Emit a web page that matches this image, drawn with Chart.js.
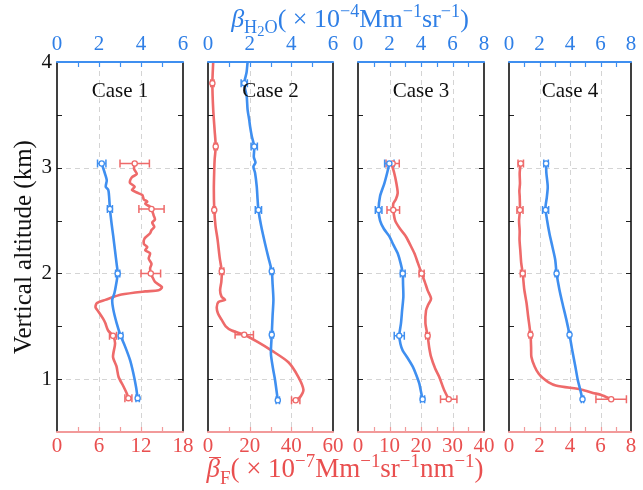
<!DOCTYPE html>
<html><head><meta charset="utf-8">
<script src="https://cdn.jsdelivr.net/npm/chart.js@4"></script>
<style>
html,body{margin:0;padding:0;background:#fff;width:643px;height:490px;overflow:hidden;position:relative;font-family:"Liberation Serif",serif}
.cv{position:absolute;top:0;height:490px}
.ttl{position:absolute;left:0;width:690px;text-align:center;white-space:nowrap;font-family:"Liberation Serif",serif;font-size:27px;line-height:1}
.it{font-style:italic}
.sub{font-size:0.7em;vertical-align:-0.35em;line-height:0}
.sub2{font-size:0.8em;vertical-align:-0.2em;line-height:0}
.sup{font-size:0.7em;vertical-align:0.55em;line-height:0}
.ov{position:relative;display:inline-block;line-height:1}
.ovbar{position:absolute;left:3px;right:-1px;top:2px;height:0;border-top:1.5px solid currentColor}
</style></head><body>
<div class="cv" style="left:0;width:195px"><canvas id="c1" width="195" height="490"></canvas></div>
<div class="cv" style="left:196px;width:149px"><canvas id="c2" width="149" height="490"></canvas></div>
<div class="cv" style="left:346px;width:150px"><canvas id="c3" width="150" height="490"></canvas></div>
<div class="cv" style="left:497px;width:146px"><canvas id="c4" width="146" height="490"></canvas></div>
<div class="ttl" id="topTitle" style="top:6px;left:5px;font-size:26px;color:#2f7fe6"><span class="it">β</span><span class="sub">H<span class="sub2">2</span>O</span>( × 10<span class="sup">−4</span>Mm<span class="sup">−1</span>sr<span class="sup">−1</span>)</div>
<div class="ttl" id="botTitle" style="top:455px;color:#e94f4f"><span class="it ov"><span class="ovbar"></span>β</span><span class="sub">F</span>( × 10<span class="sup">−7</span>Mm<span class="sup">−1</span>sr<span class="sup">−1</span>nm<span class="sup">−1</span>)</div>
<script>
// ---------- data ----------
const caseNames = ['Case 1', 'Case 2', 'Case 3', 'Case 4'];
const topMax = [6, 6, 8, 8];
const topTickLabels = [[0,2,4,6],[0,2,4,6],[0,2,4,6,8],[0,2,4,6,8]];
const botMax = [18, 60, 40, 8];
const botTickLabels = [[0,6,12,18],[0,20,40,60],[0,10,20,30,40],[0,2,4,6,8]];
const yTickLabels = [1, 2, 3, 4];

// Case 1
const c1AltF = [3.04,2.99,2.94,2.91,2.86,2.82,2.79,2.76,2.74,2.70,2.68,2.66,2.63,2.61,2.55,2.51,2.48,2.44,2.41,2.38,2.33,2.28,2.25,2.22,2.19,2.14,2.09,2.05,2.00,1.97,1.92,1.87,1.84,1.83,1.80,1.75,1.72,1.68,1.64,1.57,1.53,1.46,1.41,1.34,1.21,1.12,1.02,0.93,0.86,0.82];
const c1F = [11.1,11.0,11.4,10.7,10.4,11.1,10.7,11.6,12.2,12.4,12.9,12.6,13.3,13.5,13.8,14.0,13.6,13.9,13.5,13.3,12.5,12.4,12.9,12.6,13.3,13.1,13.5,13.3,13.4,13.6,14.0,15.0,14.5,12.6,9.2,6.9,5.7,5.5,5.9,6.6,6.9,7.3,8.0,8.3,8.0,8.5,8.8,9.5,10.0,10.2];
const c1AltB = [3.04,2.99,2.94,2.88,2.82,2.79,2.73,2.61,2.47,2.35,2.22,2.09,2.00,1.89,1.81,1.75,1.66,1.53,1.41,1.31,1.18,1.06,0.93,0.82];
const c1B = [2.13,2.21,2.29,2.37,2.32,2.44,2.48,2.52,2.60,2.68,2.76,2.84,2.89,2.81,2.73,2.63,2.68,2.84,3.03,3.24,3.48,3.63,3.76,3.84];
const c1ErrAlt = [3.04,2.61,2.00,1.41,0.82];
const c1ErrB = [2.13,2.52,2.89,3.03,3.84];
const c1ErrBd = [0.2,0.12,0.1,0.1,0.08];
const c1ErrF = [11.1,13.5,13.4,8.0,10.2];
const c1ErrFd = [2.1,1.8,1.4,0.5,0.5];

// Case 2
const c2AltB = [4.0,3.9,3.8,3.67,3.55,3.45,3.39,3.3,3.2,3.1,3.05,3.01,2.95,2.82,2.7,2.6,2.45,2.28,2.15,2.02,1.9,1.75,1.6,1.42,1.24,1.1,0.99,0.8];
const c2B = [1.9,1.85,1.74,1.86,1.9,1.98,2.02,2.1,2.22,2.2,2.28,2.18,2.26,2.34,2.38,2.42,2.55,2.74,2.9,3.06,3.1,3.14,3.1,3.06,3.02,3.12,3.22,3.35];
const c2AltF = [4.0,3.8,3.55,3.35,3.2,3.08,2.98,2.8,2.61,2.45,2.32,2.15,2.02,1.92,1.84,1.78,1.75,1.73,1.68,1.62,1.56,1.5,1.46,1.42,1.35,1.27,1.16,1.02,0.9,0.83,0.8];
const c2F = [2.5,2.1,2.5,3.2,3.7,3.2,3.0,2.8,3.0,3.6,4.6,5.6,6.6,6.4,5.8,6.5,8.2,5.0,4.2,4.8,6.6,8.5,11.4,17.4,24,30.6,38.6,43.4,45.8,44.2,42.1];
const c2ErrAlt = [3.8,3.2,2.6,2.02,1.42,0.8];
const c2ErrB = [1.74,2.22,2.42,3.06,3.06,3.35];
const c2ErrBd = [0.15,0.15,0.15,0.08,0.08,0.08];
const c2ErrF = [2.1,3.7,3.0,6.6,17.4,42.1];
const c2ErrFd = [0.8,0.8,0.6,1.0,4.4,2.0];

// Case 3
const c3AltB = [3.04,2.95,2.85,2.73,2.6,2.5,2.42,2.35,2.27,2.19,2.1,2.0,1.9,1.78,1.65,1.53,1.41,1.33,1.27,1.2,1.12,1.04,0.96,0.88,0.81];
const c3B = [1.99,1.85,1.67,1.4,1.31,1.4,1.65,1.99,2.25,2.52,2.7,2.84,2.86,2.88,2.8,2.73,2.62,2.7,2.84,3.15,3.47,3.7,3.89,4.0,4.1];
const c3AltF = [3.04,2.95,2.85,2.76,2.7,2.66,2.6,2.5,2.42,2.35,2.27,2.19,2.1,2.0,1.92,1.84,1.76,1.7,1.65,1.53,1.41,1.3,1.21,1.1,1.02,0.9,0.81];
const c3F = [10.6,11.5,12.2,12.6,12.0,11.2,11.2,11.8,13.4,15.2,16.6,17.9,19.0,20.2,21.2,22.1,23.2,22.2,21.6,21.4,22.1,22.6,23.2,24.5,25.8,27.3,28.8];
const c3ErrAlt = [3.04,2.6,2.0,1.41,0.81];
const c3ErrB = [1.99,1.31,2.84,2.62,4.1];
const c3ErrBd = [0.3,0.21,0.15,0.32,0.13];
const c3ErrF = [11.0,11.2,20.2,22.1,28.8];
const c3ErrFd = [2.1,2.0,0.8,0.6,2.6];

// Case 4
const c4AltB = [3.04,2.95,2.82,2.72,2.62,2.5,2.38,2.25,2.13,2.0,1.85,1.72,1.57,1.42,1.27,1.12,1.0,0.9,0.81];
const c4B = [2.43,2.45,2.54,2.48,2.39,2.5,2.65,2.85,3.03,3.12,3.3,3.5,3.75,3.97,4.15,4.35,4.5,4.67,4.82];
const c4AltF = [3.04,2.95,2.85,2.78,2.73,2.6,2.5,2.4,2.32,2.2,2.1,2.0,1.85,1.72,1.6,1.42,1.3,1.21,1.12,1.05,1.01,0.97,0.94,0.9,0.87,0.85,0.81];
const c4F = [0.77,0.7,0.72,0.68,0.7,0.72,0.66,0.7,0.69,0.75,0.8,0.9,1.0,1.15,1.25,1.41,1.45,1.47,1.68,1.95,2.22,2.6,3.07,4.78,5.5,6.06,6.7];
const c4ErrAlt = [3.04,2.6,2.0,1.42,0.81];
const c4ErrB = [2.43,2.4,3.12,3.97,4.82];
const c4ErrBd = [0.15,0.2,0.1,0.08,0.08];
const c4ErrF = [0.77,0.72,0.9,1.41,6.7];
const c4ErrFd = [0.18,0.2,0.15,0.1,1.0];

// ---------- styling ----------
const BLUE = '#3f8ff0', RED = '#ee6a6a', BLUE_T = '#2f7fe6', RED_T = '#e94f4f';
const FONT = 'Liberation Serif';

const panels = [
  {id:'c1', altB:c1AltB, b:c1B, altF:c1AltF, f:c1F, eAlt:c1ErrAlt, eB:c1ErrB, eBd:c1ErrBd, eF:c1ErrF, eFd:c1ErrFd, yW:57, padR:12, topStep:1, botStep:3},
  {id:'c2', altB:c2AltB, b:c2B, altF:c2AltF, f:c2F, eAlt:c2ErrAlt, eB:c2ErrB, eBd:c2ErrBd, eF:c2ErrF, eFd:c2ErrFd, yW:12, padR:12, topStep:1, botStep:10},
  {id:'c3', altB:c3AltB, b:c3B, altF:c3AltF, f:c3F, eAlt:c3ErrAlt, eB:c3ErrB, eBd:c3ErrBd, eF:c3ErrF, eFd:c3ErrFd, yW:12, padR:12, topStep:1, botStep:5},
  {id:'c4', altB:c4AltB, b:c4B, altF:c4AltF, f:c4F, eAlt:c4ErrAlt, eB:c4ErrB, eBd:c4ErrBd, eF:c4ErrF, eFd:c4ErrFd, yW:12, padR:12, topStep:1, botStep:1}
];

const pts = (alt, val) => alt.map((a, i) => ({x: val[i], y: a}));

const framePlugin = {
  id: 'frame',
  beforeDatasetsDraw(chart, args, o) {
    const {ctx, chartArea: ca, scales} = chart;
    const p = o.panel;
    ctx.save();
    ctx.strokeStyle = '#d4d4d4';
    ctx.lineWidth = 1;
    ctx.setLineDash([5, 4]);
    topTickLabels[p].forEach(v => {
      if (v <= 0 || v >= topMax[p]) return;
      const x = Math.round(scales.xTop.getPixelForValue(v)) + 0.5;
      ctx.beginPath(); ctx.moveTo(x, ca.top); ctx.lineTo(x, ca.bottom); ctx.stroke();
    });
    yTickLabels.forEach(v => {
      if (v >= 4) return;
      const y = Math.round(scales.y.getPixelForValue(v)) + 0.5;
      ctx.beginPath(); ctx.moveTo(ca.left, y); ctx.lineTo(ca.right, y); ctx.stroke();
    });
    ctx.setLineDash([]);
    const cfg = panels[p];
    const drawErr = (vals, ds, axis, color) => {
      ctx.strokeStyle = color; ctx.lineWidth = 1.5;
      cfg.eAlt.forEach((a, i) => {
        const y = scales.y.getPixelForValue(a);
        const x1 = scales[axis].getPixelForValue(vals[i] - ds[i]);
        const x2 = scales[axis].getPixelForValue(vals[i] + ds[i]);
        ctx.beginPath();
        ctx.moveTo(x1, y); ctx.lineTo(x2, y);
        ctx.moveTo(x1, y - 4); ctx.lineTo(x1, y + 4);
        ctx.moveTo(x2, y - 4); ctx.lineTo(x2, y + 4);
        ctx.stroke();
      });
    };
    drawErr(cfg.eF, cfg.eFd, 'xBot', RED);
    drawErr(cfg.eB, cfg.eBd, 'xTop', BLUE);
    ctx.restore();
  },
  afterDatasetsDraw(chart, args, o) {
    const {ctx, chartArea: ca, scales} = chart;
    const p = o.panel;
    const cfg = panels[p];
    ctx.save();
    ctx.lineWidth = 1.2;
    ctx.strokeStyle = '#222';
    for (let v = 0.5; v <= 4.001; v += 0.5) {
      const y = Math.round(scales.y.getPixelForValue(v)) + 0.5;
      ctx.beginPath();
      ctx.moveTo(ca.left, y); ctx.lineTo(ca.left + 5, y);
      ctx.moveTo(ca.right, y); ctx.lineTo(ca.right - 5, y);
      ctx.stroke();
    }
    ctx.strokeStyle = BLUE;
    for (let v = cfg.topStep; v < topMax[p] - 1e-6; v += cfg.topStep) {
      const x = Math.round(scales.xTop.getPixelForValue(v)) + 0.5;
      ctx.beginPath(); ctx.moveTo(x, ca.top); ctx.lineTo(x, ca.top + 5); ctx.stroke();
    }
    ctx.strokeStyle = '#f29a9a';
    for (let v = cfg.botStep; v < botMax[p] - 1e-6; v += cfg.botStep) {
      const x = Math.round(scales.xBot.getPixelForValue(v)) + 0.5;
      ctx.beginPath(); ctx.moveTo(x, ca.bottom); ctx.lineTo(x, ca.bottom - 5); ctx.stroke();
    }
    ctx.lineWidth = 1.6;
    ctx.strokeStyle = '#111';
    ctx.beginPath();
    ctx.moveTo(ca.left, ca.top); ctx.lineTo(ca.left, ca.bottom);
    ctx.moveTo(ca.right, ca.top); ctx.lineTo(ca.right, ca.bottom);
    ctx.stroke();
    ctx.lineWidth = 2.2;
    ctx.strokeStyle = BLUE;
    ctx.beginPath(); ctx.moveTo(ca.left - 0.8, ca.top); ctx.lineTo(ca.right + 0.8, ca.top); ctx.stroke();
    ctx.strokeStyle = '#f29a9a';
    ctx.beginPath(); ctx.moveTo(ca.left - 0.8, ca.bottom); ctx.lineTo(ca.right + 0.8, ca.bottom); ctx.stroke();
    ctx.fillStyle = '#111';
    ctx.font = '21px "' + FONT + '"';
    ctx.textAlign = 'center';
    ctx.textBaseline = 'middle';
    ctx.fillText(caseNames[p], (ca.left + ca.right) / 2, ca.top + 29);
    ctx.restore();
  }
};

panels.forEach((cfg, p) => {
  const showY = p === 0;
  new Chart(document.getElementById(cfg.id), {
    type: 'line',
    data: {
      datasets: [
        {data: pts(cfg.eAlt, cfg.eB), xAxisID: 'xTop', yAxisID: 'y', showLine: false,
         pointRadius: 2.6, pointBackgroundColor: '#fff', pointBorderColor: BLUE, pointBorderWidth: 1.3, order: 0},
        {data: pts(cfg.eAlt, cfg.eF), xAxisID: 'xBot', yAxisID: 'y', showLine: false,
         pointRadius: 2.6, pointBackgroundColor: '#fff', pointBorderColor: RED, pointBorderWidth: 1.3, order: 1},
        {data: pts(cfg.altB, cfg.b), xAxisID: 'xTop', yAxisID: 'y', borderColor: BLUE, borderWidth: 2.6,
         pointRadius: 0, tension: 0.25, fill: false, order: 2},
        {data: pts(cfg.altF, cfg.f), xAxisID: 'xBot', yAxisID: 'y', borderColor: RED, borderWidth: 2.6,
         pointRadius: 0, tension: 0.25, fill: false, order: 3}
      ]
    },
    options: {
      responsive: false,
      animation: false,
      events: [],
      layout: {padding: {left: 0, right: cfg.padR, top: 0, bottom: 0}},
      plugins: {legend: {display: false}, tooltip: {enabled: false}, frame: {panel: p}},
      scales: {
        xTop: {
          type: 'linear', position: 'top', min: 0, max: topMax[p],
          afterBuildTicks: s => { s.ticks = topTickLabels[p].map(v => ({value: v})); },
          ticks: {autoSkip: false, maxRotation: 0, color: BLUE_T, padding: 5,
                  font: {family: FONT, size: 21}},
          grid: {display: false, drawTicks: false}, border: {display: false},
          afterFit: s => { s.height = 62; s.paddingLeft = 0; s.paddingRight = 0; }
        },
        xBot: {
          type: 'linear', position: 'bottom', min: 0, max: botMax[p],
          afterBuildTicks: s => { s.ticks = botTickLabels[p].map(v => ({value: v})); },
          ticks: {autoSkip: false, maxRotation: 0, color: RED_T, padding: 2,
                  font: {family: FONT, size: 21}},
          grid: {display: false, drawTicks: false}, border: {display: false},
          afterFit: s => { s.height = 58; s.paddingLeft = 0; s.paddingRight = 0; }
        },
        y: {
          type: 'linear', position: 'left', min: 0.5, max: 4,
          afterBuildTicks: s => { s.ticks = yTickLabels.map(v => ({value: v})); },
          ticks: {display: showY, color: '#111', padding: 5, font: {family: FONT, size: 21}},
          title: {display: showY, text: 'Vertical altitude (km)', color: '#111',
                  font: {family: FONT, size: 25}, padding: {top: 9, bottom: 0}},
          grid: {display: false, drawTicks: false}, border: {display: false},
          afterFit: s => { s.width = cfg.yW; s.paddingTop = 0; s.paddingBottom = 0; }
        }
      }
    },
    plugins: [framePlugin]
  });
});
</script>
</body></html>
